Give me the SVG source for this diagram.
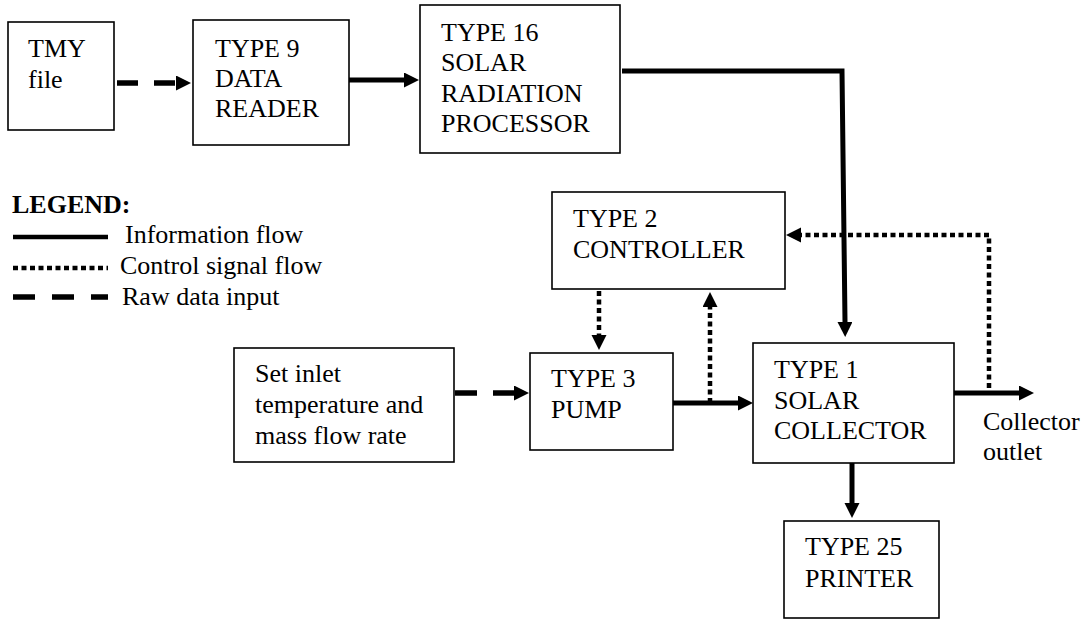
<svg xmlns="http://www.w3.org/2000/svg" width="1085" height="623" viewBox="0 0 1085 623">
<style>
text{font-family:"Liberation Serif","Times New Roman",serif;font-size:26px;fill:#000}
.box{fill:#fff;stroke:#000;stroke-width:1.6}
.solid{fill:none;stroke:#000;stroke-width:5}
.dot{fill:none;stroke:#000;stroke-width:4.5;stroke-dasharray:5 3.5}
.dash{fill:none;stroke:#000;stroke-width:5.5}
.bold{font-weight:bold}
</style>
<defs>
<marker id="ah" markerUnits="userSpaceOnUse" markerWidth="16" markerHeight="16" refX="0" refY="7.5" orient="auto">
<path d="M0,0 L15,7.5 L0,15 z" fill="#000"/>
</marker>
</defs>
<rect width="1085" height="623" fill="#fff"/>
<g id="connectors">
<line class="dash" x1="117" y1="83" x2="176" y2="83" style="stroke-dasharray:21 16" marker-end="url(#ah)"/>
<line class="solid" x1="349" y1="80" x2="404" y2="80" marker-end="url(#ah)"/>
<polyline class="solid" points="622,71 842,71 845,322" marker-end="url(#ah)"/>
<line class="dot" x1="599" y1="291" x2="599" y2="335" marker-end="url(#ah)"/>
<line class="solid" x1="673" y1="403" x2="738" y2="403" marker-end="url(#ah)"/>
<line class="dot" x1="710" y1="403" x2="710" y2="307" marker-end="url(#ah)"/>
<line class="solid" x1="954" y1="393" x2="1019" y2="393" marker-end="url(#ah)"/>
<polyline class="dot" points="989,388 989,235 801,235" marker-end="url(#ah)"/>
<line class="solid" x1="852" y1="463" x2="852" y2="503" marker-end="url(#ah)"/>
<line class="dash" x1="455" y1="393" x2="514" y2="393" style="stroke-dasharray:22 16" marker-end="url(#ah)"/>
</g>
<g id="tmy">
<rect class="box" x="8" y="22" width="106" height="108"/>
<text x="28" y="57">TMY</text>
<text x="28" y="88">file</text>
</g>
<g id="type9">
<rect class="box" x="193" y="20" width="156" height="125"/>
<text x="215" y="57">TYPE 9</text>
<text x="215" y="87">DATA</text>
<text x="215" y="117">READER</text>
</g>
<g id="type16">
<rect class="box" x="420" y="5" width="200" height="148"/>
<text x="441" y="41">TYPE 16</text>
<text x="441" y="71">SOLAR</text>
<text x="441" y="102">RADIATION</text>
<text x="441" y="132">PROCESSOR</text>
</g>
<g id="type2">
<rect class="box" x="552" y="192" width="233" height="97"/>
<text x="573" y="227">TYPE 2</text>
<text x="573" y="258">CONTROLLER</text>
</g>
<g id="setinlet">
<rect class="box" x="234" y="348" width="220" height="114"/>
<text x="255" y="382">Set inlet</text>
<text x="255" y="413">temperature and</text>
<text x="255" y="444">mass flow rate</text>
</g>
<g id="type3">
<rect class="box" x="530" y="353" width="143" height="97"/>
<text x="551" y="387">TYPE 3</text>
<text x="551" y="418">PUMP</text>
</g>
<g id="type1">
<rect class="box" x="753" y="343" width="201" height="120"/>
<text x="774" y="378">TYPE 1</text>
<text x="774" y="409">SOLAR</text>
<text x="774" y="439">COLLECTOR</text>
</g>
<g id="outlet">
<text x="983" y="430">Collector</text>
<text x="983" y="460">outlet</text>
</g>
<g id="type25">
<rect class="box" x="784" y="521" width="155" height="97"/>
<text x="805" y="555">TYPE 25</text>
<text x="805" y="587">PRINTER</text>
</g>
<g id="legend">
<text class="bold" x="12" y="213">LEGEND:</text>
<line class="solid" x1="13" y1="237" x2="108" y2="237" style="stroke-width:4.5"/>
<text x="125" y="243">Information flow</text>
<line class="dot" x1="13" y1="268" x2="108" y2="268"/>
<text x="120" y="274">Control signal flow</text>
<line class="dash" x1="13" y1="297" x2="108" y2="297" style="stroke-dasharray:22 17"/>
<text x="122" y="305">Raw data input</text>
</g>
</svg>
